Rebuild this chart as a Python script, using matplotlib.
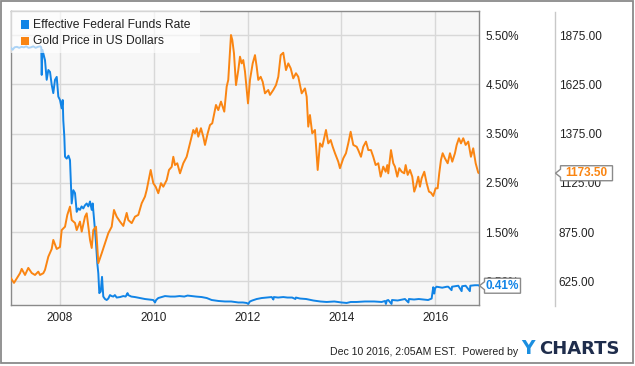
import matplotlib
matplotlib.use("Agg")
import matplotlib.pyplot as plt
from matplotlib.patches import Rectangle, Polygon
from matplotlib.lines import Line2D

plt.rcParams['font.family'] = ['Liberation Sans', 'DejaVu Sans']

# ---------------- data ----------------
series_labels = ['Effective Federal Funds Rate', 'Gold Price in US Dollars']

rate_years = [
    2006.955, 2006.99, 2007.03, 2007.08, 2007.13, 2007.18, 2007.23, 2007.28, 2007.33, 2007.38,
    2007.43, 2007.48, 2007.53, 2007.58, 2007.60, 2007.61, 2007.625, 2007.644, 2007.68, 2007.716,
    2007.751, 2007.787, 2007.823, 2007.857, 2007.893, 2007.930, 2007.964, 2008.000, 2008.036, 2008.058,
    2008.070, 2008.092, 2008.107, 2008.143, 2008.180, 2008.213, 2008.249, 2008.284, 2008.320, 2008.356,
    2008.390, 2008.426, 2008.46, 2008.497, 2008.53, 2008.569, 2008.603, 2008.640, 2008.676, 2008.697,
    2008.746, 2008.768, 2008.795, 2008.817, 2008.838, 2008.868, 2008.896, 2008.923, 2008.96, 2008.996,
    2009.03, 2009.066, 2009.10, 2009.136, 2009.17, 2009.209, 2009.28, 2009.350, 2009.40, 2009.44,
    2009.456, 2009.52, 2009.599, 2009.70, 2009.812, 2009.90, 2009.989, 2010.026, 2010.05, 2010.096,
    2010.17, 2010.239, 2010.35, 2010.452, 2010.55, 2010.65, 2010.72, 2010.808, 2010.90, 2011.021,
    2011.13, 2011.234, 2011.38, 2011.518, 2011.65, 2011.802, 2011.90, 2011.98, 2012.015, 2012.05,
    2012.10, 2012.194, 2012.30, 2012.40, 2012.514, 2012.55, 2012.56, 2012.65, 2012.761, 2012.85,
    2012.95, 2013.02, 2013.03, 2013.117, 2013.25, 2013.401, 2013.55, 2013.686, 2013.85, 2014.00,
    2014.113, 2014.20, 2014.326, 2014.50, 2014.60, 2014.70, 2014.859, 2014.93, 2014.95, 2014.97,
    2015.000, 2015.07, 2015.08, 2015.20, 2015.356, 2015.43, 2015.44, 2015.55, 2015.65, 2015.75,
    2015.85, 2015.925, 2015.959, 2015.98, 2016.00, 2016.031, 2016.15, 2016.25, 2016.279, 2016.35,
    2016.36, 2016.42, 2016.493, 2016.565, 2016.575, 2016.65, 2016.74, 2016.75, 2016.85, 2016.919,
    2016.94,
]
rate_values = [
    5.24, 5.20, 5.25, 5.26, 5.24, 5.26, 5.25, 5.27, 5.24, 5.25,
    5.27, 5.24, 5.26, 5.27, 5.25, 4.69, 5.20, 5.13, 4.99, 4.59,
    4.79, 4.75, 4.49, 4.32, 4.59, 4.65, 4.25, 4.18, 4.01, 4.18,
    3.77, 3.44, 3.03, 2.99, 3.05, 2.96, 2.08, 2.35, 2.29, 1.91,
    1.98, 1.95, 2.02, 1.98, 2.04, 2.08, 2.02, 2.12, 1.95, 2.08,
    1.54, 1.27, 0.87, 0.66, 0.26, 0.29, 0.59, 0.19, 0.14, 0.12,
    0.15, 0.22, 0.20, 0.19, 0.22, 0.17, 0.18, 0.20, 0.19, 0.26,
    0.22, 0.19, 0.18, 0.16, 0.14, 0.13, 0.12, 0.07, 0.12, 0.16,
    0.18, 0.20, 0.19, 0.19, 0.20, 0.19, 0.21, 0.20, 0.19, 0.18,
    0.16, 0.12, 0.10, 0.09, 0.09, 0.07, 0.07, 0.06, 0.04, 0.09,
    0.11, 0.14, 0.16, 0.17, 0.18, 0.13, 0.18, 0.17, 0.18, 0.17,
    0.17, 0.14, 0.17, 0.15, 0.14, 0.11, 0.09, 0.08, 0.09, 0.07,
    0.06, 0.08, 0.08, 0.09, 0.09, 0.09, 0.08, 0.10, 0.04, 0.11,
    0.12, 0.04, 0.12, 0.11, 0.14, 0.07, 0.14, 0.13, 0.14, 0.13,
    0.12, 0.15, 0.38, 0.25, 0.36, 0.39, 0.37, 0.39, 0.39, 0.32,
    0.39, 0.40, 0.41, 0.30, 0.40, 0.41, 0.30, 0.41, 0.42, 0.42,
    0.41,
]

gold_years = [
    2006.955, 2007.019, 2007.08, 2007.147, 2007.183, 2007.254, 2007.324, 2007.397, 2007.467, 2007.537,
    2007.574, 2007.644, 2007.680, 2007.751, 2007.823, 2007.857, 2007.930, 2008.000, 2008.036, 2008.107,
    2008.156, 2008.213, 2008.249, 2008.320, 2008.356, 2008.426, 2008.463, 2008.533, 2008.569, 2008.640,
    2008.676, 2008.710, 2008.768, 2008.817, 2008.889, 2008.959, 2009.030, 2009.102, 2009.151, 2009.209,
    2009.279, 2009.350, 2009.422, 2009.456, 2009.529, 2009.599, 2009.670, 2009.742, 2009.812, 2009.849,
    2009.934, 2009.989, 2010.040, 2010.096, 2010.153, 2010.203, 2010.275, 2010.324, 2010.382, 2010.416,
    2010.452, 2010.501, 2010.559, 2010.629, 2010.701, 2010.772, 2010.808, 2010.842, 2010.878, 2010.915,
    2010.949, 2011.006, 2011.055, 2011.092, 2011.149, 2011.198, 2011.247, 2011.290, 2011.326, 2011.375,
    2011.433, 2011.503, 2011.554, 2011.588, 2011.646, 2011.674, 2011.710, 2011.753, 2011.802, 2011.838,
    2011.874, 2011.908, 2011.945, 2011.981, 2012.009, 2012.051, 2012.109, 2012.158, 2012.194, 2012.228,
    2012.279, 2012.322, 2012.371, 2012.441, 2012.478, 2012.548, 2012.606, 2012.655, 2012.706, 2012.761,
    2012.819, 2012.868, 2012.919, 2012.974, 2013.032, 2013.081, 2013.154, 2013.224, 2013.260, 2013.294,
    2013.330, 2013.379, 2013.437, 2013.495, 2013.544, 2013.593, 2013.672, 2013.721, 2013.772, 2013.815,
    2013.864, 2013.934, 2013.970, 2014.041, 2014.098, 2014.147, 2014.198, 2014.254, 2014.326, 2014.360,
    2014.418, 2014.467, 2014.525, 2014.574, 2014.631, 2014.680, 2014.731, 2014.787, 2014.838, 2014.893,
    2014.945, 2014.979, 2015.000, 2015.058, 2015.107, 2015.143, 2015.192, 2015.235, 2015.286, 2015.341,
    2015.371, 2015.414, 2015.463, 2015.512, 2015.554, 2015.590, 2015.640, 2015.676, 2015.712, 2015.768,
    2015.819, 2015.868, 2015.910, 2015.959, 2016.010, 2016.053, 2016.087, 2016.124, 2016.160, 2016.209,
    2016.267, 2016.316, 2016.365, 2016.422, 2016.459, 2016.507, 2016.550, 2016.599, 2016.650, 2016.706,
    2016.763, 2016.812, 2016.864, 2016.919, 2016.94,
]
gold_values = [
    640, 617, 640, 666, 688, 657, 693, 667, 657, 674,
    657, 666, 683, 750, 789, 835, 789, 799, 885, 902,
    962, 1004, 936, 921, 885, 928, 877, 953, 970, 835,
    794, 885, 902, 717, 767, 818, 869, 902, 987, 953,
    928, 906, 972, 936, 920, 953, 962, 1021, 1055, 1089,
    1190, 1123, 1105, 1072, 1123, 1105, 1139, 1190, 1206, 1257,
    1215, 1224, 1173, 1224, 1257, 1325, 1359, 1393, 1376, 1402,
    1359, 1402, 1359, 1317, 1376, 1418, 1427, 1478, 1520, 1494,
    1537, 1486, 1613, 1647, 1875, 1850, 1782, 1621, 1697, 1765,
    1731, 1748, 1689, 1596, 1528, 1647, 1731, 1773, 1714, 1647,
    1663, 1638, 1579, 1596, 1571, 1596, 1621, 1663, 1773, 1785,
    1697, 1731, 1706, 1655, 1681, 1663, 1579, 1604, 1562, 1410,
    1469, 1376, 1393, 1190, 1325, 1308, 1393, 1325, 1342, 1308,
    1275, 1232, 1199, 1249, 1275, 1325, 1384, 1317, 1308, 1291,
    1257, 1308, 1334, 1291, 1291, 1257, 1215, 1224, 1156, 1207,
    1181, 1215, 1173, 1291, 1224, 1207, 1156, 1199, 1181, 1173,
    1215, 1165, 1190, 1156, 1080, 1105, 1156, 1105, 1148, 1181,
    1123, 1080, 1075, 1058, 1097, 1097, 1173, 1241, 1275, 1249,
    1224, 1275, 1232, 1275, 1317, 1351, 1325, 1351, 1317, 1334,
    1257, 1300, 1224, 1176, 1173.5,
]

x_ticks = [2008, 2010, 2012, 2014, 2016]
rate_ticks = [0.5, 1.5, 2.5, 3.5, 4.5, 5.5]
gold_ticks = [625, 875, 1125, 1375, 1625, 1875]
footer_text = 'Dec 10 2016, 2:05AM EST.  Powered by'

# ---------------- style ----------------
BLUE = '#1184e6'
ORANGE = '#fa8512'
W, H = 635, 366

def fx(px):
    return px / W

def fy(py):
    return 1 - py / H

fig = plt.figure(figsize=(W / 100, H / 100), dpi=100)
fig.patch.set_facecolor('white')

ax = fig.add_axes([fx(11), fy(305.3), fx(479) - fx(11), fy(11) - fy(305.3)])
ax.set_facecolor('#f7f7f7')
ax2 = ax.twinx()

ax.plot(rate_years, rate_values, color=BLUE, lw=1.4, zorder=3)
ax2.plot(gold_years, gold_values, color=ORANGE, lw=1.4, zorder=3)

ax.set_xlim(2006.955, 2016.935)
ax.set_ylim(0.0125, 5.9875)
ax2.set_ylim(625 + (0.0125 - 0.5) * 250, 625 + (5.9875 - 0.5) * 250)

ax.set_xticks(x_ticks)
ax.set_xticklabels([str(t) for t in x_ticks])
ax.set_yticks(rate_ticks)
ax.set_yticklabels(['%.2f%%' % t for t in rate_ticks])
ax.yaxis.tick_right()
ax2.set_yticks(gold_ticks)
ax2.set_yticklabels(['%.2f' % t for t in gold_ticks])

ax.grid(True, color='#d8d8d8', lw=1)
ax.set_axisbelow(True)
ax.tick_params(axis='both', length=0, labelsize=8.5, labelcolor='#222222')
ax.tick_params(axis='x', pad=5)
ax.tick_params(axis='y', pad=4.5)
ax2.tick_params(axis='y', length=0, labelsize=8.5, labelcolor='#222222', pad=57.5)
for lab in ax.get_yticklabels() + ax2.get_yticklabels():
    lab.set_horizontalalignment('left')

for s in ax.spines.values():
    s.set_color('#8a8a8a')
    s.set_linewidth(1)
for s in ax2.spines.values():
    s.set_visible(False)

# legend
leg_bg = Rectangle((fx(11), fy(53)), fx(200) - fx(11), fy(11) - fy(53),
                   transform=fig.transFigure, facecolor='white', alpha=0.65,
                   edgecolor='none', zorder=10)
fig.patches.append(leg_bg)
for i, (lab, col) in enumerate(zip(series_labels, [BLUE, ORANGE])):
    yc = 24.5 + i * 16.5
    fig.patches.append(Rectangle((fx(21), fy(yc + 4)), fx(8), 8 / H,
                                 transform=fig.transFigure, facecolor=col,
                                 edgecolor='none', zorder=11))
    fig.text(fx(33), fy(yc), lab, fontsize=8.7, color='#222222',
             va='center', ha='left', zorder=12)

# right-side separator
fig.lines.append(Line2D([fx(555), fx(555)], [fy(11.5), fy(306)],
                        transform=fig.transFigure, color='#c8c8c8', lw=1))

# callouts for last values
fig.canvas.draw()

def callout(tip_x, tip_y, width, text, color):
    # tip_x in image px, tip_y in display px (from bottom)
    h = 15
    x0 = tip_x + 5
    y0 = tip_y - h / 2
    pts = [(x0, y0), (x0 + width, y0), (x0 + width, y0 + h), (x0, y0 + h),
           (x0, tip_y + 4), (tip_x, tip_y), (x0, tip_y - 4)]
    pts = [(px / W, py / H) for px, py in pts]
    fig.patches.append(Polygon(pts, closed=True, transform=fig.transFigure,
                               facecolor='white', edgecolor='#8a8a8a',
                               lw=1, zorder=20))
    fig.text((x0 + width / 2) / W, tip_y / H, text, color=color,
             fontsize=8.5, fontweight='bold', ha='center', va='center', zorder=21)

_, ry = ax.transData.transform((rate_years[-1], rate_values[-1]))
callout(479.5, ry, 36, '%.2f%%' % rate_values[-1], BLUE)
_, gy = ax2.transData.transform((gold_years[-1], gold_values[-1]))
callout(555.5, gy, 52, '%.2f' % gold_values[-1], ORANGE)

# footer
fig.text(fx(330), fy(355), footer_text, fontsize=7.6, color='#222222',
         ha='left', va='baseline')
fig.text(fx(521), fy(354.5), 'Y', fontsize=13.5, fontweight='bold',
         color='#1b8fe0', ha='left', va='baseline', family='DejaVu Sans')
fig.text(fx(539), fy(354.5), 'CHARTS', fontsize=13, fontweight='bold',
         color='#1f2d4c', ha='left', va='baseline', family='DejaVu Sans')

# outer border
fig.patches.append(Rectangle((fx(1), fy(363)), fx(632), 362 / H,
                             transform=fig.transFigure, facecolor='none',
                             edgecolor='#8a8a8a', lw=1.3, zorder=30))

fig.savefig('out.png', dpi=100)
